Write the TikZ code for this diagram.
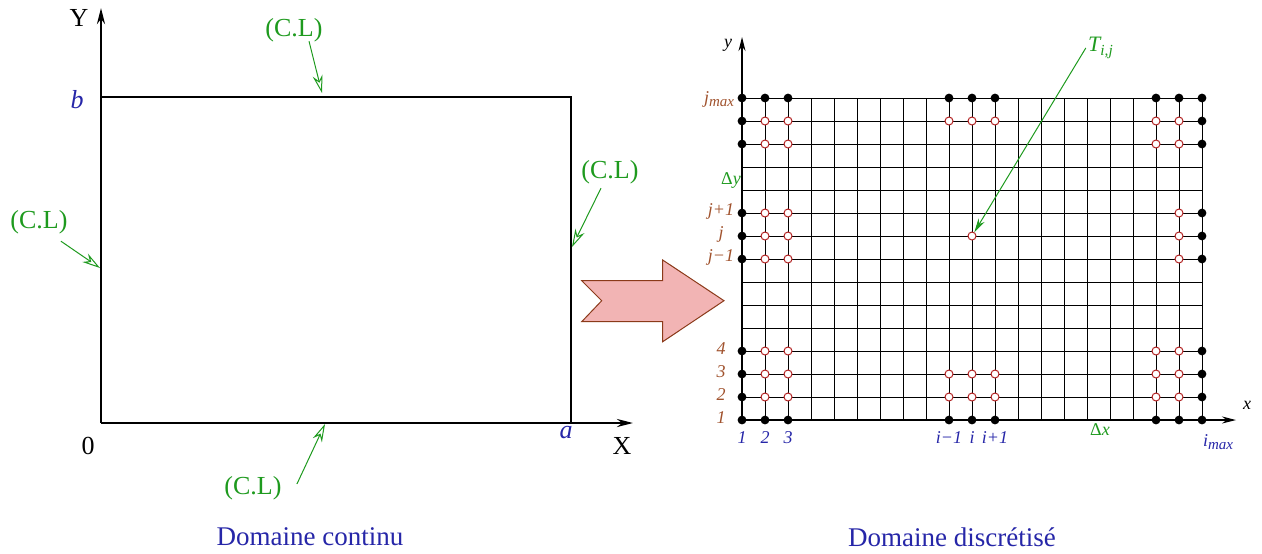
\documentclass[tikz,border=0pt]{standalone}
\usepackage{fontspec}
\setmainfont{Liberation Serif}
\usetikzlibrary{arrows.meta,positioning,calc}
\definecolor{clGreen}{HTML}{1E9A1E}
\definecolor{idxBlue}{HTML}{2626A8}
\definecolor{idxBrown}{HTML}{A0522D}
\definecolor{ptRed}{HTML}{B22222}
\definecolor{arrPink}{HTML}{F2B4B4}
\definecolor{arrEdge}{HTML}{8B3A1A}
\newcommand\lowsub[1]{\raisebox{-0.45ex}{\fontsize{7.5}{8}\selectfont #1}}
\tikzset{
  axisline/.style={line width=1.3pt, -{Stealth[length=8pt, width=4pt]}},
  axisthin/.style={line width=0.6pt, -{Stealth[length=7pt, width=3.5pt]}},
  domline/.style={line width=1.3pt},
  gridline/.style={line width=0.4pt},
  lbl/.style={inner sep=1pt, font=\fontsize{13}{15}\selectfont},
  cl/.style={lbl, text=clGreen},
  clarr/.style={clGreen, line width=0.5pt, -{Stealth[open, length=9pt, width=5pt]}},
  dimlbl/.style={inner sep=1pt, text=idxBlue, font=\fontsize{13}{15}\selectfont\itshape},
  caption/.style={inner sep=1pt, text=idxBlue, font=\fontsize{13.5}{16}\selectfont},
  idxB/.style={inner sep=1pt, text=idxBlue, font=\fontsize{9}{10}\selectfont\itshape},
  idxL/.style={inner sep=1pt, text=idxBrown, font=\fontsize{9}{10}\selectfont\itshape},
  steplbl/.style={inner sep=1pt, text=clGreen, font=\fontsize{9}{10}\selectfont\itshape},
  fulldot/.style={circle, fill=black, inner sep=0pt, minimum size=4.4pt},
  opendot/.style={circle, draw=ptRed, fill=white, line width=0.5pt, inner sep=0pt, minimum size=4pt},
  bigarrow/.style={fill=arrPink, draw=arrEdge, line width=0.5pt, line join=miter},
}

\begin{document}
\begin{tikzpicture}[x=0.5pt, y=-0.5pt]
  \useasboundingbox (0,0) rectangle (1262,553);
  % continuous domain
  \coordinate (O) at (101,423);
  \coordinate (A) at (571,423);
  \coordinate (B) at (101,97);
  \coordinate (C) at (571,97);
  \draw[domline] (B) -- (C) -- (A);
  \draw[axisline] (O) -- (101,8);
  \draw[axisline] (O) -- (633,423);
  \node[lbl] (yAx) at (79,18) {Y};
  \node[lbl] (xAx) at (622,446) {X};
  \node[lbl] (zero) at (88,446) {0};
  \node[dimlbl] (bLen) at (77,100) {b};
  \node[dimlbl] (aLen) at (566,433) {a};
  % boundary conditions
  \node[cl] (clTop) at (294,30) {(C.L)};
  \node[cl] (clRight) at (610,172) {(C.L)};
  \node[cl] (clLeft) at (39,222) {(C.L)};
  \node[cl] (clBot) at (253,488) {(C.L)};
  \coordinate (clTopEnd) at (322,93);
  \coordinate (clRightEnd) at (572,247);
  \coordinate (clLeftEnd) at (100,268);
  \coordinate (clBotEnd) at (325,424);
  \draw[clarr] ($(clTop.south)+(15,-3)$) -- (clTopEnd);
  \draw[clarr] ($(clRight.south)+(-9,2)$) -- (clRightEnd);
  \draw[clarr] ($(clLeft.south east)+(-9,5)$) -- (clLeftEnd);
  \draw[clarr] ($(clBot.east)+(13,-4)$) -- (clBotEnd);
  \node[caption] (capCont) at (310,537) {Domaine continu};

  % big arrow
  \draw[bigarrow] (581.7,280.7) -- (601.7,300.7) -- (581.7,321.7) -- (662.7,321.7)
    -- (662.7,341.7) -- (724,300.7) -- (662.7,260) -- (662.7,280.7) -- cycle;

  % discrete domain
  \foreach \k in {0,...,20}
    \draw[gridline] (742+23*\k,420) -- (742+23*\k,98);
  \foreach \k in {0,...,14}
    \draw[gridline] (742,420-23*\k) -- (1202,420-23*\k);
  \draw[axisthin] (742,420) -- (742,37);
  \draw[axisthin] (742,420) -- (1236,420);
  \node[inner sep=1pt, font=\fontsize{9}{10}\selectfont\itshape] (yGrid) at (728,45) {y};
  \node[inner sep=1pt, font=\fontsize{9}{10}\selectfont\itshape] (xGrid) at (1247,405) {x};
  % boundary points
  \foreach \r in {0,14}
    \foreach \c in {0,1,2,9,10,11,18,19,20}
      \node[fulldot] (f\c-\r) at (742+23*\c,420-23*\r) {};
  \foreach \c in {0,20}
    \foreach \r in {1,2,3,7,8,9,12,13}
      \node[fulldot] (f\c-\r) at (742+23*\c,420-23*\r) {};
  % interior points
  \foreach \c in {1,2,18,19}
    \foreach \r in {1,2,3,12,13}
      \node[opendot] (p\c-\r) at (742+23*\c,420-23*\r) {};
  \foreach \c in {9,10,11}
    \foreach \r in {1,2,13}
      \node[opendot] (p\c-\r) at (742+23*\c,420-23*\r) {};
  \foreach \c in {1,2,19}
    \foreach \r in {7,8,9}
      \node[opendot] (p\c-\r) at (742+23*\c,420-23*\r) {};
  \node[opendot] (pij) at (972,236) {};
  % indices
  \foreach \c/\t in {0/1,1/2,2/3,9/{i−1},10/i,11/{i+1}}
    \node[idxB] (ib\c) at (742+23*\c,438) {\t};
  \node[idxB] (imax) at (1218,442) {i\lowsub{max}};
  \foreach \r/\t in {0/1,1/2,2/3,3/4,7/{j−1},8/j,9/{j+1}}
    \node[idxL] (jl\r) at (721,418-23*\r) {\t};
  \node[idxL] (jmax) at (719,99) {j\lowsub{max}};
  \node[steplbl] (dy) at (731,180) {{\upshape Δ}y};
  \node[steplbl] (dx) at (1100,430) {{\upshape Δ}x};
  \node[steplbl, font=\fontsize{11}{12}\selectfont\itshape] (tij) at (1101,48)
    {T\textsubscript{i,j}};
  \draw[clGreen, line width=0.5pt, -{Stealth[length=7pt, width=3.5pt]}]
    (tij.west) -- (pij);
  \node[caption] (capDisc) at (952,537) {Domaine discrétisé};
\end{tikzpicture}
\end{document}
